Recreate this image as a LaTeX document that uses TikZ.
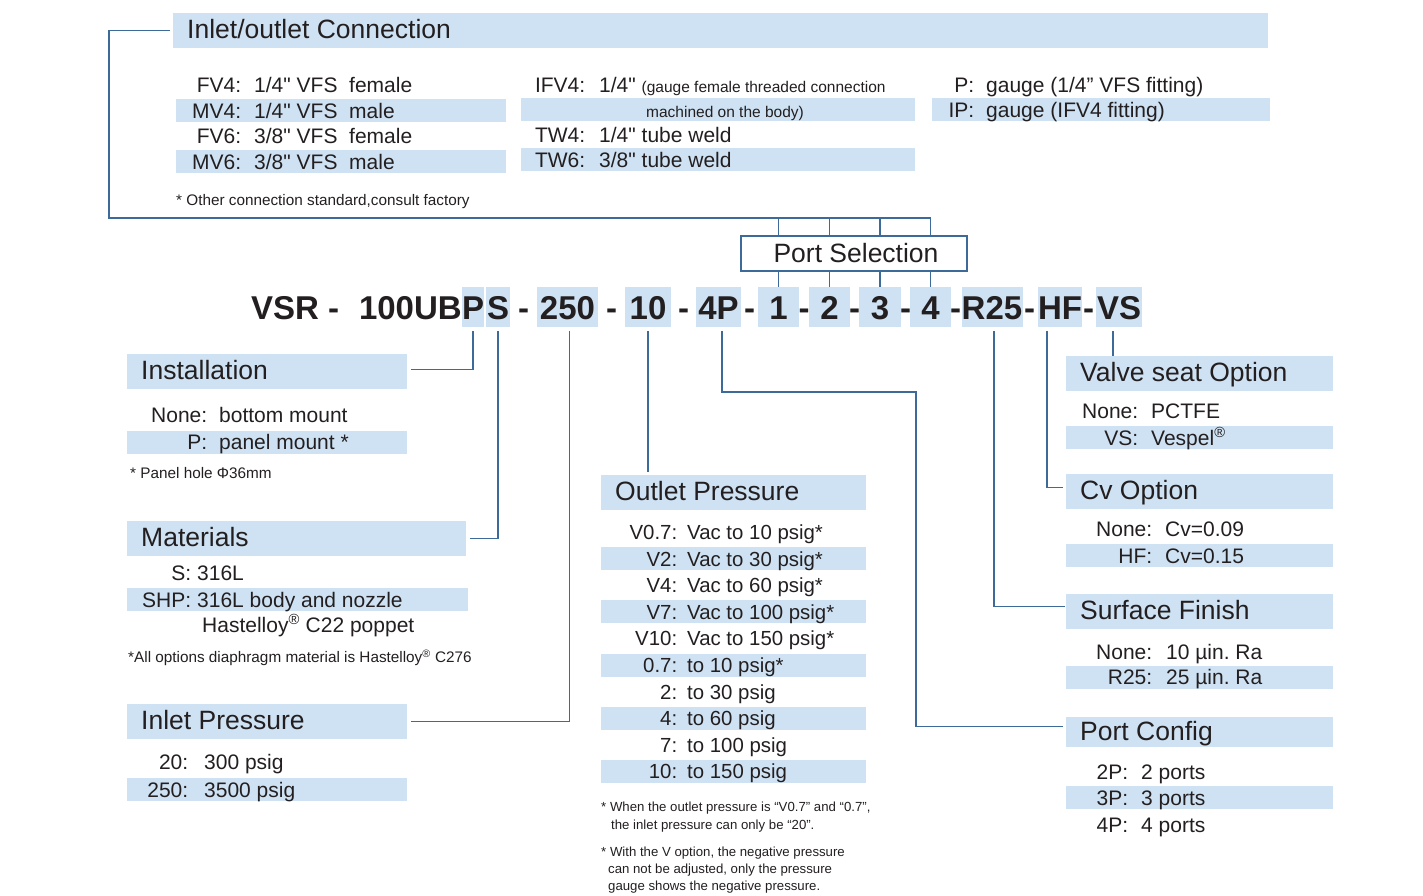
\documentclass[tikz,border=0pt]{standalone}
\usepackage{fontspec}
\usepackage{xcolor}
\usepackage{tikz}
\newfontfamily\lsans{Liberation Sans}
\definecolor{band}{HTML}{CFE2F3}
\definecolor{linec}{HTML}{3D6B99}
\definecolor{ink}{HTML}{231F20}
\newcommand\headfont{\lsans\fontsize{26.5}{30}\selectfont}
\newcommand\rowfont{\lsans\fontsize{21}{25}\selectfont}
\newcommand\outfont{\lsans\fontsize{20.4}{24}\selectfont}
\newcommand\notefont{\lsans\fontsize{15.3}{18}\selectfont}
\newcommand\smallnote{\lsans\fontsize{13.2}{17.3}\selectfont}
\newcommand\gaugefont{\lsans\fontsize{15.5}{18}\selectfont}
\newcommand\codefont{\lsans\bfseries\fontsize{33}{36}\selectfont}
\newcommand\optlab[2]{\makebox[#1][r]{#2}}
\newcommand\regd{\textsuperscript{®}}
\newcommand\plainspaces{\spaceskip=0pt\xspaceskip=0pt\frenchspacing}

\begin{document}
\begin{tikzpicture}[
  x=1pt, y=-1pt,
  head/.style={fill=band, anchor=north west, inner xsep=14pt, inner ysep=0pt, text width=#1, minimum height=35pt, text height=19pt, text depth=3pt, align=left, font=\headfont, text=ink, execute at begin node=\plainspaces},
  row/.style={anchor=west, inner sep=0pt, text width=#1, minimum height=23pt, text height=15pt, text depth=0pt, align=left, font=\rowfont, text=ink, execute at begin node=\plainspaces},
  note/.style={anchor=west, inner sep=0pt, align=left, font=\notefont, text=ink, execute at begin node=\plainspaces},
  code/.style={inner sep=0pt, text height=24pt, text depth=0pt, font=\codefont, text=ink},
  codebox/.style={code, fill=band, minimum width=#1, minimum height=40pt},
  selbox/.style={draw=linec, line width=2.2pt, fill=white, minimum width=226pt, minimum height=35pt, font=\headfont, text=ink},
  link/.style={draw=linec, line width=1.3pt}
]
\useasboundingbox (0,0) rectangle (1423,896);

\node[head=1067pt] (ioc) at (173,13) {Inlet/outlet Connection};
\foreach \y/\l/\v/\f [count=\i] in {85/FV4:/{1/4" VFS\ \ female}/none, 111/MV4:/{1/4" VFS\ \ male}/band, 136/FV6:/{3/8" VFS\ \ female}/none, 162/MV6:/{3/8" VFS\ \ male}/band}
  \node[row=330pt, fill=\f] (fv\i) at (176,\y) {\optlab{65pt}{\l}\hspace{13pt}\v};
\node[row=394pt] (ifv) at (521,85) {\optlab{64pt}{IFV4:}\hspace{14pt}1/4" {\gaugefont\plainspaces(gauge female threaded connection}};
\node[row=394pt, fill=band] (ifvb) at (521,110) {\hspace*{125pt}{\gaugefont\plainspaces machined on the body)}};
\node[row=394pt] (tw4) at (521,135) {\optlab{64pt}{TW4:}\hspace{14pt}1/4" tube weld};
\node[row=394pt, fill=band] (tw6) at (521,160) {\optlab{64pt}{TW6:}\hspace{14pt}3/8" tube weld};
\node[row=338pt] (pg) at (932,85) {\optlab{42pt}{P:}\hspace{12pt}gauge (1/4” VFS fitting)};
\node[row=338pt, fill=band] (ipg) at (932,110) {\optlab{42pt}{IP:}\hspace{12pt}gauge (IFV4 fitting)};
\node[note] (ionote) at (176,202) {* Other connection standard,consult factory};

\node[code, anchor=east] (cvsr) at (462,307) {VSR -\hspace{20pt}100UB};
\foreach \t/\x/\w in {P/473/22, S/498/24, 250/567.5/61, 10/648/46, 4P/718.5/45, 1/778.5/41, 2/829.5/41, 3/880/42, 4/930.5/41, R25/992/61, HF/1060/44, VS/1119/46}
  \node[codebox=\w] (c\t) at (\x,307) {\t};
\foreach \x [count=\i] in {523.5, 611.5, 683.5, 749.5, 804, 854.5, 905.5, 955.5, 1029.5, 1088.5}
  \node[code] (dash\i) at (\x,307) {-};

\node[selbox] (psel) at (854,253.5) {\hspace*{4pt}Port Selection};
\coordinate (bus) at (109,218);
\draw[link] ([xshift=-3pt]ioc.west) -| (bus) -- (c4.north |- bus);
\foreach \n in {1,...,4} {
  \draw[link] (c\n.north |- bus) -- (c\n.north |- psel.north);
  \draw[link] (c\n.north |- psel.south) -- (c\n.north);
}

\node[head=252pt] (inst) at (127,354) {Installation};
\node[row=280pt] (bmount) at (127,415) {\optlab{80pt}{None:}\hspace{12pt}bottom mount};
\node[row=280pt, fill=band] (pmount) at (127,442) {\optlab{80pt}{P:}\hspace{12pt}panel mount *};
\node[note] (instnote) at (130,473) {* Panel hole Φ36mm};

\node[head=311pt] (mat) at (127,521) {Materials};
\node[row=341pt] (s316) at (127,573) {\optlab{64pt}{S:}\hspace{6pt}316L};
\node[row=341pt, fill=band] (shp) at (127,599.5) {\optlab{64pt}{SHP:}\hspace{6pt}316L body and nozzle};
\node[row=341pt] (hast) at (127,625) {\hspace*{75pt}Hastelloy\regd{} C22 poppet};
\node[note] (matnote) at (128,658) {*All options diaphragm material is Hastelloy\regd{} C276};

\node[head=252pt] (inlet) at (127,704) {Inlet Pressure};
\node[row=280pt] (p20) at (127,762) {\optlab{61pt}{20:}\hspace{16pt}300 psig};
\node[row=280pt, fill=band] (p250) at (127,789.5) {\optlab{61pt}{250:}\hspace{16pt}3500 psig};

\node[head=237pt] (outlet) at (601,475) {Outlet Pressure};
\foreach \l/\v/\f [count=\i] in {V0.7:/Vac to 10 psig*/none, V2:/Vac to 30 psig*/band, V4:/Vac to 60 psig*/none, V7:/Vac to 100 psig*/band, V10:/Vac to 150 psig*/none, 0.7:/to 10 psig*/band, 2:/to 30 psig/none, 4:/to 60 psig/band, 7:/to 100 psig/none, 10:/to 150 psig/band}
  \node[row=265pt, fill=\f, font=\outfont] (op\i) at (601,{505.4+26.6*\i}) {\optlab{76pt}{\l}\hspace{10pt}\v};
\node[note, font=\smallnote] (opnote1) at (601,817) {* When the outlet pressure is “V0.7” and “0.7”,\\\hspace*{10pt}the inlet pressure can only be “20”.};
\node[note, font=\smallnote] (opnote2) at (601,870) {* With the V option, the negative pressure\\\hspace*{7pt}can not be adjusted, only the pressure\\\hspace*{7pt}gauge shows the negative pressure.};

\node[head=239pt] (vseat) at (1066,356) {Valve seat Option};
\node[row=267pt] (pctfe) at (1066,411) {\optlab{72pt}{None:}\hspace{13pt}PCTFE};
\node[row=267pt, fill=band] (vesp) at (1066,437.5) {\optlab{72pt}{VS:}\hspace{13pt}Vespel\regd};

\node[head=239pt] (cv) at (1066,474) {Cv Option};
\node[row=267pt] (cv09) at (1066,529) {\optlab{86pt}{None:}\hspace{13pt}Cv=0.09};
\node[row=267pt, fill=band] (cv15) at (1066,555.5) {\optlab{86pt}{HF:}\hspace{13pt}Cv=0.15};

\node[head=239pt] (surf) at (1066,594) {Surface Finish};
\node[row=267pt] (ra10) at (1066,652) {\optlab{86pt}{None:}\hspace{14pt}10 µin. Ra};
\node[row=267pt, fill=band] (ra25) at (1066,677) {\optlab{86pt}{R25:}\hspace{14pt}25 µin. Ra};

\node[head=239pt, minimum height=30pt] (pcfg) at (1066,717) {Port Config};
\foreach \n/\y/\f in {2/772/none, 3/797.5/band, 4/825/none}
  \node[row=267pt, fill=\f] (port\n) at (1066,\y) {\optlab{62pt}{\n P:}\hspace{13pt}\n\ ports};

\draw[link] ([yshift=-4pt]cP.south) |- ([xshift=4pt,yshift=2pt]inst.east);
\draw[link] ([yshift=-4pt]cS.south) |- ([xshift=4pt]mat.east);
\draw[link] ([xshift=2pt,yshift=-4pt]c250.south) |- ([xshift=4pt]inlet.east);
\draw[link] ([yshift=-4pt]c10.south) -- ([yshift=3pt]c10.south |- outlet.north);
\coordinate (pbend) at (916,392);
\draw[link] ([xshift=3.5pt,yshift=-4pt]c4P.south) |- (pbend) |- ([xshift=-3pt,yshift=6pt]pcfg.west);
\draw[link] ([xshift=2pt,yshift=-4pt]cR25.south) |- ([xshift=-1pt,yshift=5pt]surf.west);
\draw[link] ([xshift=-13pt,yshift=-4pt]cHF.south) |- ([xshift=-3pt,yshift=4pt]cv.west);
\draw[link] ([xshift=-6pt,yshift=-4pt]cVS.south) -- ([xshift=-6pt]cVS.south |- vseat.north);
\end{tikzpicture}
\end{document}
